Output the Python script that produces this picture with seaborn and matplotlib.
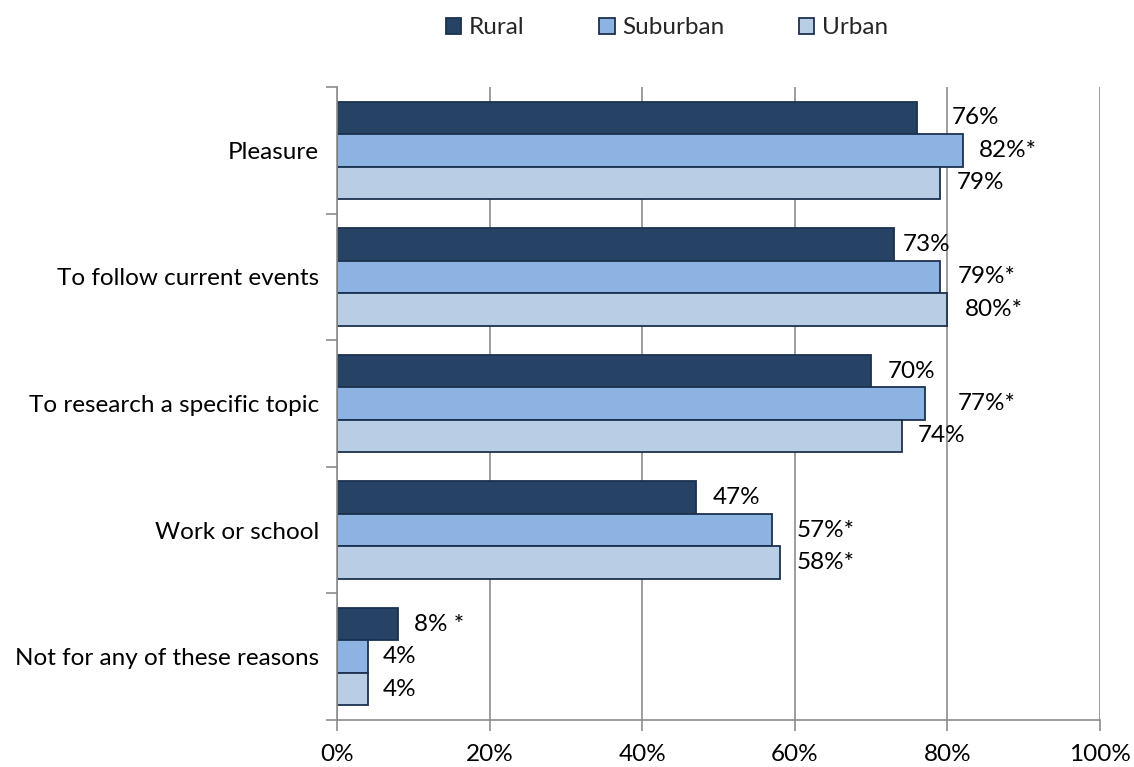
import matplotlib
matplotlib.use("Agg")
import matplotlib.pyplot as plt
from matplotlib.patches import Patch
from matplotlib.ticker import FixedLocator, FuncFormatter
import pandas as pd
import seaborn as sns

# Reasons for reading, by community type (share of respondents, %)
categories = [
    "Pleasure",
    "To follow current events",
    "To research a specific topic",
    "Work or school",
    "Not for any of these reasons",
]
areas = ["Rural", "Suburban", "Urban"]
rural = [76, 73, 70, 47, 8]
suburban = [82, 79, 77, 57, 4]
urban = [79, 80, 74, 58, 4]
rural_labels = ["76%", "73%", "70%", "47%", "8% *"]
suburban_labels = ["82%*", "79%*", "77%*", "57%*", "4%"]
urban_labels = ["79%", "80%*", "74%", "58%*", "4%"]
x_ticks = [0, 20, 40, 60, 80, 100]

# horizontal gap (pixels) between each bar end and its value label
rural_gap = [35, 9, 17, 17, 16]
suburban_gap = [16, 18, 33, 25, 15]
urban_gap = [17, 17, 16, 17, 15]

colors = {"Rural": "#264264", "Suburban": "#8DB3E2", "Urban": "#B9CDE5"}
edge = "#1B3150"
grid_gray = "#8C8C8C"
FS = 17.5

df = pd.DataFrame({
    "reason": categories * 3,
    "area": [a for a in areas for _ in categories],
    "share": rural + suburban + urban,
})

sns.set_style("white")
plt.rcParams["font.family"] = ["Lato", "DejaVu Sans"]

fig = plt.figure(figsize=(11.34, 7.67), dpi=100)
ax = fig.add_axes([337 / 1134, 47 / 767, 763 / 1134, 633 / 767])

sns.barplot(
    data=df, y="reason", x="share", hue="area", order=categories,
    hue_order=areas, palette=colors, saturation=1, orient="h", width=0.77,
    edgecolor=edge, linewidth=1.3, legend=False, ax=ax,
)

# value labels next to each bar
all_labels = [rural_labels, suburban_labels, urban_labels]
all_gaps = [rural_gap, suburban_gap, urban_gap]
for container, labels, gaps in zip(ax.containers, all_labels, all_gaps):
    for patch, text, gap in zip(container.patches, labels, gaps):
        ax.annotate(
            text,
            xy=(patch.get_x() + patch.get_width(), patch.get_y() + patch.get_height() / 2),
            xytext=(gap, 0), textcoords="offset pixels",
            ha="left", va="center", fontsize=FS, color="black",
        )

ax.set_xlim(0, 100)
ax.set_ylim(len(categories) - 0.5, -0.5)
ax.set_xlabel("")
ax.set_ylabel("")

ax.xaxis.set_major_locator(FixedLocator(x_ticks))
ax.xaxis.set_major_formatter(FuncFormatter(lambda v, _: f"{v:.0f}%"))
ax.tick_params(axis="x", which="major", direction="out", length=8, width=1.2,
               color=grid_gray, labelsize=FS, labelcolor="black", pad=9, bottom=True)

ax.yaxis.set_minor_locator(FixedLocator([i - 0.5 for i in range(len(categories) + 1)]))
ax.tick_params(axis="y", which="major", length=0, labelsize=FS, labelcolor="black", pad=13)
ax.tick_params(axis="y", which="minor", direction="out", length=8, width=1.2,
               color=grid_gray, left=True)

ax.grid(axis="x", color=grid_gray, linewidth=1.2)
ax.grid(axis="y", visible=False)
ax.set_axisbelow(True)

for side in ("top", "right"):
    ax.spines[side].set_visible(False)
for side in ("left", "bottom"):
    ax.spines[side].set_color(grid_gray)
    ax.spines[side].set_linewidth(1.2)

handles = [Patch(facecolor=colors[a], edgecolor=edge, linewidth=1.3, label=a) for a in areas]
fig.legend(
    handles=handles, loc="center", bbox_to_anchor=(667 / 1134, 1 - 28 / 767),
    ncol=3, frameon=False, fontsize=FS, handlelength=0.62, handleheight=0.62,
    handletextpad=0.3, columnspacing=3.1,
)

fig.savefig("out.png", dpi=100)
